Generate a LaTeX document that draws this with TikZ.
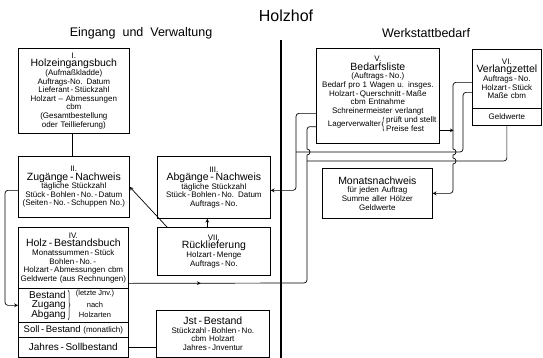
\documentclass[tikz,border=0pt]{standalone}
\usepackage{fontspec}
\setmainfont{Liberation Sans}
\usetikzlibrary{decorations.markings,decorations.pathreplacing}

\tikzset{
  box/.style={draw, line width=0.7pt, anchor=north west, align=center,
    inner xsep=1pt, inner ysep=1pt, font=\fontsize{8}{8.6}\selectfont},
  conn/.style={line width=0.7pt},
  arr/.style={conn, -stealth},
  head/.style={font=\fontsize{12.5}{15}\selectfont},
  word/.style={inner sep=0pt, font=\fontsize{10}{11}\selectfont},
  note/.style={inner sep=0pt, font=\fontsize{7.5}{8}\selectfont},
  brc/.style={line width=0.5pt, decorate, decoration={brace, amplitude=2pt}}
}
\newcommand{\ttl}[1]{{\fontsize{10.5}{12}\selectfont #1}}
\newcommand{\hy}{\,-\,}

\begin{document}
\begin{tikzpicture}[x=1pt,y=-1pt]
  \useasboundingbox (0,0) rectangle (543,357);

  % headings
  \node[font=\fontsize{16}{18}\selectfont] (holzhof) at (286,16) {Holzhof};
  \node[head] (eingang) at (141,33) {Eingang\ \ und\ \ Verwaltung};
  \node[head] (werkstatt) at (426,33) {Werkstattbedarf};
  \draw[line width=1.8pt] (281,40) coordinate (hoftop) -- (281,358) coordinate (hofbot);

  % Eingang und Verwaltung
  \node[box, text width=109pt, minimum height=85pt] (holzein) at (18,48)
    {I.\\\ttl{Holzeingangsbuch}\\(Aufmaßkladde)\\Auftrags-No. Datum\\Lieferant\hy Stückzahl\\Holzart -- Abmessungen\\cbm\\(Gesamtbestellung\\oder Teillieferung)};
  \node[box, text width=109pt, minimum height=61pt] (zugang) at (18,156)
    {II.\\\ttl{Zugänge\hy Nachweis}\\tägliche Stückzahl\\Stück\hy Bohlen\hy No.\hy Datum\\(Seiten\hy No.\hy Schuppen No.)};
  \node[box, text width=108pt, minimum height=61pt] (bestand) at (18,227)
    {IV.\\\ttl{Holz\hy Bestandsbuch}\\Monatssummen\hy Stück\\Bohlen\hy No.\hy\\Holzart\hy Abmessungen cbm\\Geldwerte (aus Rechnungen)};
  \node[box, text width=108pt, minimum height=34pt] (bestzug) at (18,288) {};
  \node[box, text width=108pt, minimum height=15pt] (sollbest) at (18,322)
    {{\fontsize{9.5}{10}\selectfont Soll\hy Bestand} (monatlich)};
  \node[box, text width=108pt, minimum height=19.5pt] (jahressoll) at (18,337)
    {\fontsize{10}{11}\selectfont Jahres\hy Sollbestand};

  \node[word, anchor=east] (wbest) at (66,295) {Bestand};
  \node[word, anchor=east] (wzug) at (66,305) {Zugang};
  \node[word, anchor=east] (wabg) at (66,315) {Abgang};
  \draw[brc] (68,290) -- (68,320);
  \node[note] (nletzt) at (95,294) {(letzte Jnv.)};
  \node[note] (nnach) at (95,305) {nach};
  \node[note] (nholzart) at (95,315) {Holzarten};

  \node[box, text width=111pt, minimum height=62pt] (abgang) at (157,156)
    {III.\\\ttl{Abgänge\hy Nachweis}\\tägliche Stückzahl\\Stück\hy Bohlen\hy No. Datum\\Auftrags\hy No.};
  \node[box, text width=111pt, minimum height=48pt] (rueck) at (157,227)
    {VII.\\\ttl{Rücklieferung}\\Holzart\hy Menge\\Auftrags\hy No.};
  \node[box, text width=111pt, minimum height=46.5pt] (istbest) at (156,310)
    {\ttl{Jst\hy Bestand}\\Stückzahl\hy Bohlen\hy No.\\cbm Holzart\\Jahres\hy Jnventur};

  % Werkstattbedarf
  \node[box, text width=121pt, minimum height=95pt] (bedarf) at (316,48)
    {V.\\\ttl{Bedarfsliste}\\(Auftrags\hy No.)\\Bedarf pro 1 Wagen u. insges.\\Holzart\hy Querschnitt\hy Maße\\cbm Entnahme\\Schreinermeister verlangt\\[2.5pt]\rule[-8pt]{0pt}{17pt}};
  \node[inner sep=0pt, anchor=east, font=\fontsize{8}{8.6}\selectfont] (lager) at (381,124) {Lagerverwalter};
  \draw[brc] (384,131) -- (384,117);
  \node[inner sep=0pt, anchor=west, align=left, font=\fontsize{8}{8.4}\selectfont] (preise) at (386,124)
    {prüft und stellt\\Preise fest};
  \node[box, text width=67pt, minimum height=59pt] (verlang) at (472,49)
    {VI.\\\ttl{Verlangzettel}\\Auftrags\hy No.\\Holzart\hy Stück\\Maße cbm};
  \node[box, text width=67pt, minimum height=17pt] (geldw) at (472,108) {Geldwerte};
  \node[box, text width=108pt, minimum height=50pt] (monat) at (322,168)
    {\ttl{Monatsnachweis}\\für jeden Auftrag\\Summe aller Hölzer\\Geldwerte};

  \coordinate (knotb) at (296,152);
  \coordinate (knotc) at (307,161);

  % connectors
  \draw[conn] ([xshift=-1.5pt]holzein.south) -- ([xshift=-1.5pt]zugang.north);
  \draw[arr, rounded corners=3pt] ([yshift=-3.5pt]zugang.west) -- ++(-13,0) |- (bestzug.west);
  \draw[arr] ([xshift=-6.5pt]rueck.north) -- ([xshift=-6.5pt]abgang.south);
  \draw[arr] ([xshift=10pt]rueck.north west) -- (zugang.east);
  \draw[conn] (jahressoll.east) -- (jahressoll.east -| istbest.west);

  \draw[arr, rounded corners=3pt] ([yshift=-17.5pt]bedarf.west) -- ++(-20,0) |- ([yshift=-3pt]abgang.east);
  \draw[conn, rounded corners=3pt] ([yshift=-13.5pt]verlang.west) -- ++(-9,0) |- (knotb);
  \draw[conn, rounded corners=3pt,
        postaction={decorate, decoration={markings, mark=at position 72pt with {\arrow{stealth}}}}]
    ([yshift=-25.5pt]bestand.east) -- (307,283) -- (307,165) [sharp corners] -- (307,155)
    arc[start angle=90, end angle=-90, radius=3] -- (307,140) [rounded corners=3pt]
    -- (307,126.5) -- ([yshift=-31pt]bedarf.west);
  \draw[conn, rounded corners=3pt] (knotc) -| (geldw.south);
  \draw[arr, rounded corners=3pt] ([yshift=-3.5pt]verlang.west) -- ++(-19,0) -- (453,140) [sharp corners]
    -- (453,149) arc[start angle=-90, end angle=90, radius=3]
    -- (453,158) arc[start angle=-90, end angle=90, radius=3]
    -- (453,170) [rounded corners=3pt] |- (monat.east);
  \draw[arr] ([yshift=-34.5pt]bedarf.east) -- ++(14,0);
\end{tikzpicture}
\end{document}
